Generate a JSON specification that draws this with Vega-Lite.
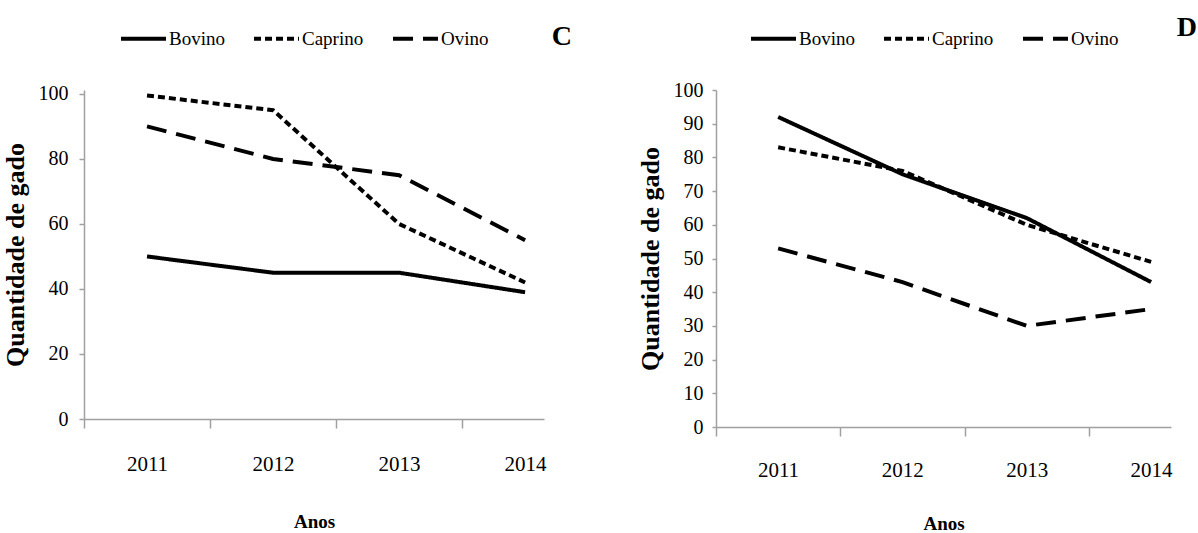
{
  "$schema": "https://vega.github.io/schema/vega-lite/v6.json",
  "padding": {"left": 2, "top": 14, "right": 0, "bottom": 0},
  "bounds": "flush",
  "spacing": 172,
  "background": "white",
  "datasets": {
    "C": [
      {"ano": 2011, "tipo": "Bovino", "valor": 50},
      {"ano": 2012, "tipo": "Bovino", "valor": 45},
      {"ano": 2013, "tipo": "Bovino", "valor": 45},
      {"ano": 2014, "tipo": "Bovino", "valor": 39},
      {"ano": 2011, "tipo": "Caprino", "valor": 99.5},
      {"ano": 2012, "tipo": "Caprino", "valor": 95},
      {"ano": 2013, "tipo": "Caprino", "valor": 60},
      {"ano": 2014, "tipo": "Caprino", "valor": 42},
      {"ano": 2011, "tipo": "Ovino", "valor": 90},
      {"ano": 2012, "tipo": "Ovino", "valor": 80},
      {"ano": 2013, "tipo": "Ovino", "valor": 75},
      {"ano": 2014, "tipo": "Ovino", "valor": 55}
    ],
    "D": [
      {"ano": 2011, "tipo": "Bovino", "valor": 92},
      {"ano": 2012, "tipo": "Bovino", "valor": 75},
      {"ano": 2013, "tipo": "Bovino", "valor": 62},
      {"ano": 2014, "tipo": "Bovino", "valor": 43},
      {"ano": 2011, "tipo": "Caprino", "valor": 83},
      {"ano": 2012, "tipo": "Caprino", "valor": 76},
      {"ano": 2013, "tipo": "Caprino", "valor": 60},
      {"ano": 2014, "tipo": "Caprino", "valor": 49},
      {"ano": 2011, "tipo": "Ovino", "valor": 53},
      {"ano": 2012, "tipo": "Ovino", "valor": 43},
      {"ano": 2013, "tipo": "Ovino", "valor": 30},
      {"ano": 2014, "tipo": "Ovino", "valor": 35}
    ]
  },
  "hconcat": [
    {
      "width": 460,
      "height": 329,
      "data": {"name": "C"},
      "title": {"text": "C", "orient": "top", "anchor": "end", "frame": "group", "font": "Liberation Serif", "fontSize": 28, "fontWeight": "bold", "color": "black", "baseline": "middle", "offset": 56, "dx": 28, "dy": 107},
      "mark": {"type": "line", "color": "black", "strokeWidth": 4, "strokeCap": "butt"},
      "encoding": {
        "x": {
          "field": "ano", "type": "quantitative",
          "scale": {"domain": [2010.5, 2014.15], "nice": false, "zero": false},
          "axis": {"values": [2010.5, 2011.5, 2012.5, 2013.5], "labelExpr": "format(datum.value + 0.5, 'd')", "labelOffset": 63, "labelFlush": false, "labelFontSize": 21, "tickSize": 9, "labelPadding": 25, "title": "Anos", "titleFontSize": 19, "titleFontWeight": "bold", "titleY": 102, "titleBaseline": "middle"}
        },
        "y": {
          "field": "valor", "type": "quantitative",
          "scale": {"domain": [0, 101.2], "nice": false},
          "axis": {"values": [0, 20, 40, 60, 80, 100], "labelFontSize": 20, "tickSize": 5, "labelPadding": 11, "title": "Quantidade de gado", "titleFontSize": 26, "titleFontWeight": "bold", "titleX": -69, "titleBaseline": "middle"}
        },
        "strokeDash": {
          "field": "tipo", "type": "nominal",
          "scale": {"domain": ["Bovino", "Caprino", "Ovino"], "range": [[1, 0], [7, 4], [20, 10]]},
          "legend": {"orient": "none", "direction": "horizontal", "legendX": 35, "legendY": -76, "title": null}
        }
      }
    },
    {
      "width": 455,
      "height": 337,
      "data": {"name": "D"},
      "title": {"text": "D", "orient": "top", "anchor": "end", "frame": "group", "font": "Liberation Serif", "fontSize": 28, "fontWeight": "bold", "color": "black", "baseline": "middle", "offset": 63, "dx": 26, "dy": 105},
      "mark": {"type": "line", "color": "black", "strokeWidth": 4, "strokeCap": "butt"},
      "encoding": {
        "x": {
          "field": "ano", "type": "quantitative",
          "scale": {"domain": [2010.5, 2014.16], "nice": false, "zero": false},
          "axis": {"values": [2010.5, 2011.5, 2012.5, 2013.5], "labelExpr": "format(datum.value + 0.5, 'd')", "labelOffset": 62, "labelFlush": false, "labelFontSize": 21, "tickSize": 9, "labelPadding": 23, "title": "Anos", "titleFontSize": 19, "titleFontWeight": "bold", "titleY": 96, "titleBaseline": "middle"}
        },
        "y": {
          "field": "valor", "type": "quantitative",
          "scale": {"domain": [0, 100], "nice": false},
          "axis": {"values": [0, 10, 20, 30, 40, 50, 60, 70, 80, 90, 100], "labelFontSize": 20, "tickSize": 4, "labelPadding": 9, "title": "Quantidade de gado", "titleFontSize": 26, "titleFontWeight": "bold", "titleX": -66, "titleBaseline": "middle"}
        },
        "strokeDash": {
          "field": "tipo", "type": "nominal",
          "scale": {"domain": ["Bovino", "Caprino", "Ovino"], "range": [[1, 0], [7, 4], [20, 10]]},
          "legend": {"orient": "none", "direction": "horizontal", "legendX": 33, "legendY": -76, "title": null}
        }
      }
    }
  ],
  "resolve": {
    "scale": {"x": "independent", "y": "independent", "strokeDash": "independent"},
    "legend": {"strokeDash": "independent"}
  },
  "config": {
    "view": {"stroke": null},
    "axis": {"grid": false, "domainColor": "#a0a0a0", "domainWidth": 1.5, "tickColor": "#a0a0a0", "tickWidth": 1.5, "labelFont": "Liberation Serif", "labelColor": "black", "titleFont": "Liberation Serif", "titleColor": "black"},
    "legend": {"symbolType": "stroke", "symbolSize": 2025, "symbolStrokeWidth": 4, "symbolStrokeColor": "black", "labelFont": "Liberation Serif", "labelFontSize": 19, "labelColor": "black", "labelOffset": 1, "columnPadding": 21, "labelLimit": 200}
  }
}
